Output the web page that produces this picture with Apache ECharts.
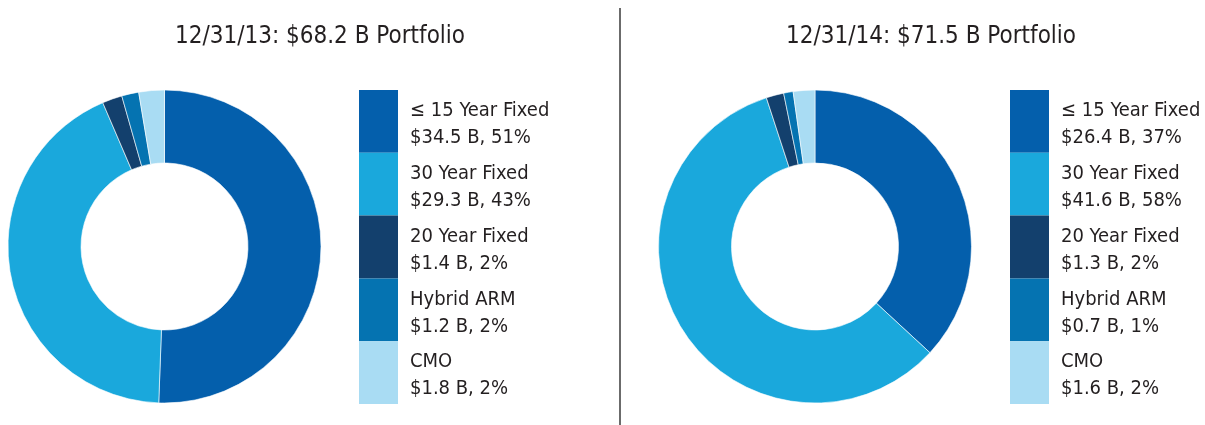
<!DOCTYPE html>
<html>
<head>
<meta charset="utf-8">
<script src="https://cdn.jsdelivr.net/npm/echarts@6/dist/echarts.min.js"></script>
<style>
  html, body { margin: 0; padding: 0; background: #fff; }
  #chart { width: 1205px; height: 425px; }
</style>
</head>
<body>
<div id="chart"></div>
<script>
// data
const categories = ["≤ 15 Year Fixed", "30 Year Fixed", "20 Year Fixed", "Hybrid ARM", "CMO"];
const colors = ["#045fac", "#1aa8dc", "#13406d", "#0573b1", "#a9dcf3"];

const titles = ["12/31/13: $68.2 B Portfolio", "12/31/14: $71.5 B Portfolio"];
const values2013 = [34.5, 29.3, 1.4, 1.2, 1.8];
const pct2013 = [51, 43, 2, 2, 2];
const values2014 = [26.4, 41.6, 1.3, 0.7, 1.6];
const pct2014 = [37, 58, 2, 1, 2];

const FONT = '"DejaVu Sans Condensed", "Liberation Sans Narrow", Lato, sans-serif';
const TEXT = "#231f20";

function pieData(vals) {
  return categories.map((c, i) => ({ name: c, value: vals[i], itemStyle: { color: colors[i] } }));
}

function legendFmt(vals, pcts) {
  return function (name) {
    const i = categories.indexOf(name);
    return "{t|" + name + "}\n{t|$" + vals[i].toFixed(1) + " B, " + pcts[i] + "%}";
  };
}

function legend(left, vals, pcts) {
  return {
    orient: "vertical",
    left: left,
    top: 90,
    padding: 0,
    itemWidth: 39,
    itemHeight: 62.8,
    itemGap: 0,
    icon: "rect",
    selectedMode: false,
    data: categories,
    itemStyle: { borderWidth: 0 },
    formatter: legendFmt(vals, pcts),
    textStyle: {
      padding: [6, 0, 0, 7],
      rich: { t: { fontFamily: FONT, fontSize: 20, lineHeight: 27, color: TEXT } }
    }
  };
}

const chart = echarts.init(document.getElementById("chart"), null, { renderer: "canvas" });

const option = {
  animation: false,
  title: [
    { text: titles[0], left: 315, top: 20, textAlign: "center",
      textStyle: { fontFamily: FONT, fontSize: 24, fontWeight: "normal", color: TEXT } },
    { text: titles[1], left: 926, top: 20, textAlign: "center",
      textStyle: { fontFamily: FONT, fontSize: 24, fontWeight: "normal", color: TEXT } }
  ],
  legend: [legend(359, values2013, pct2013), legend(1010, values2014, pct2014)],
  graphic: [{
    type: "line",
    shape: { x1: 620, y1: 8, x2: 620, y2: 425 },
    style: { stroke: "#6b6b6b", lineWidth: 2 }
  }],
  series: [
    {
      type: "pie",
      center: [164.5, 246.5],
      radius: [83.5, 156.5],
      startAngle: 90,
      clockwise: true,
      label: { show: false },
      labelLine: { show: false },
      emphasis: { disabled: true },
      itemStyle: { borderColor: "#fff", borderWidth: 0.6 },
      data: pieData(values2013)
    },
    {
      type: "pie",
      center: [815, 246.5],
      radius: [83.5, 156.5],
      startAngle: 90,
      clockwise: true,
      label: { show: false },
      labelLine: { show: false },
      emphasis: { disabled: true },
      itemStyle: { borderColor: "#fff", borderWidth: 0.6 },
      data: pieData(values2014)
    }
  ]
};

chart.setOption(option);
</script>
</body>
</html>
